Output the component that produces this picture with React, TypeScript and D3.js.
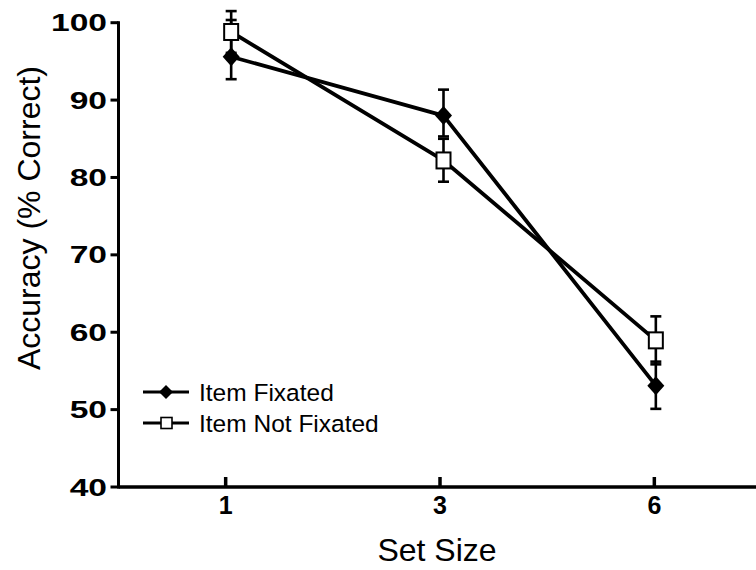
import { useEffect, useRef } from "react"
import * as d3 from "d3"

const setSizes = ["1", "3", "6"]
const yTicks = [40, 50, 60, 70, 80, 90, 100]

const fixated = [95.6, 88.0, 53.1]
const fixatedErrUp = [4.75, 3.35, 3.1]
const fixatedErrDown = [2.9, 2.7, 3.0]

const notFixated = [98.8, 82.2, 58.95]
const notFixatedErrUp = [2.7, 2.8, 3.1]
const notFixatedErrDown = [2.7, 2.75, 3.1]

const legendLabels = ["Item Fixated", "Item Not Fixated"]

const W = 756
const H = 570
const FONT = "'Liberation Sans', Arial, Helvetica, sans-serif"

export default function App() {
  const svgRef = useRef<SVGSVGElement>(null)

  useEffect(() => {
    if (!svgRef.current) return
    const svg = d3.select(svgRef.current)
    svg.selectAll("*").remove()

    const axisX = 118.5
    const axisY = 487

    const x = d3.scalePoint<string>().domain(setSizes).range([axisX, 761.5]).padding(0.5)
    // the points sit slightly right of the ticks in the original
    const xData = d3.scalePoint<string>().domain(setSizes).range([125, 762]).padding(0.5)
    const y = d3.scaleLinear().domain([40, 100]).range([axisY, 22.7])

    const g = svg.append("g")

    // axes
    g.append("line")
      .attr("x1", axisX).attr("x2", axisX)
      .attr("y1", y(100) - 1.5).attr("y2", axisY + 1.5)
      .attr("stroke", "#000").attr("stroke-width", 3)
    g.append("line")
      .attr("x1", axisX).attr("x2", W)
      .attr("y1", axisY).attr("y2", axisY)
      .attr("stroke", "#000").attr("stroke-width", 3.5)

    g.selectAll(".ytick")
      .data(yTicks)
      .join("line")
      .attr("x1", axisX - 8).attr("x2", axisX)
      .attr("y1", (d) => y(d)).attr("y2", (d) => y(d))
      .attr("stroke", "#000").attr("stroke-width", 3)

    // y tick labels are stretched sideways in the original
    g.selectAll(".ylab")
      .data(yTicks)
      .join("text")
      .attr("transform", (d) => `translate(107, ${y(d) + 8.5}) scale(1.4, 1)`)
      .attr("text-anchor", "end")
      .attr("font-family", FONT)
      .attr("font-weight", "bold")
      .attr("font-size", 24)
      .text((d) => d)

    g.selectAll(".xtick")
      .data(setSizes)
      .join("line")
      .attr("x1", (d) => x(d)!).attr("x2", (d) => x(d)!)
      .attr("y1", axisY - 10).attr("y2", axisY)
      .attr("stroke", "#000").attr("stroke-width", 3.5)

    g.selectAll(".xlab")
      .data(setSizes)
      .join("text")
      .attr("x", (d) => x(d)!)
      .attr("y", 514)
      .attr("text-anchor", "middle")
      .attr("font-family", FONT)
      .attr("font-weight", "bold")
      .attr("font-size", 25)
      .text((d) => d)

    svg.append("text")
      .attr("x", 437)
      .attr("y", 561)
      .attr("text-anchor", "middle")
      .attr("font-family", FONT)
      .attr("font-size", 32)
      .text("Set Size")

    svg.append("text")
      .attr("transform", `translate(40, 218) rotate(-90)`)
      .attr("text-anchor", "middle")
      .attr("font-family", FONT)
      .attr("font-size", 32)
      .text("Accuracy (% Correct)")

    const series = [
      { values: fixated, up: fixatedErrUp, down: fixatedErrDown, marker: "diamond" },
      { values: notFixated, up: notFixatedErrUp, down: notFixatedErrDown, marker: "square" },
    ]

    const line = d3.line<number>()
      .x((_, i) => xData(setSizes[i])!)
      .y((d) => y(d))

    series.forEach((s) => {
      g.append("path")
        .attr("d", line(s.values))
        .attr("fill", "none")
        .attr("stroke", "#000")
        .attr("stroke-width", 3.8)
        .attr("stroke-linejoin", "round")
    })

    // error bars
    series.forEach((s) => {
      s.values.forEach((v, i) => {
        const cx = xData(setSizes[i])!
        const top = y(v + s.up[i])
        const bot = y(v - s.down[i])
        g.append("line")
          .attr("x1", cx).attr("x2", cx).attr("y1", top).attr("y2", bot)
          .attr("stroke", "#000").attr("stroke-width", 2.6)
        ;[top, bot].forEach((yy) => {
          g.append("line")
            .attr("x1", cx - 5.5).attr("x2", cx + 5.5).attr("y1", yy).attr("y2", yy)
            .attr("stroke", "#000").attr("stroke-width", 2.6)
        })
      })
    })

    const diamond = (cx: number, cy: number, w: number, h: number) =>
      `M${cx},${cy - h / 2}L${cx + w / 2},${cy}L${cx},${cy + h / 2}L${cx - w / 2},${cy}Z`

    // markers
    series.forEach((s) => {
      s.values.forEach((v, i) => {
        const cx = xData(setSizes[i])!
        const cy = y(v)
        if (s.marker === "diamond") {
          g.append("path")
            .attr("d", diamond(cx, cy, 17, 19))
            .attr("fill", "#000")
        } else {
          g.append("rect")
            .attr("x", cx - 7).attr("y", cy - 8)
            .attr("width", 14).attr("height", 16)
            .attr("fill", "#fff").attr("stroke", "#000").attr("stroke-width", 2)
        }
      })
    })

    // legend
    const legendY = [392, 423]
    legendLabels.forEach((label, i) => {
      const ly = legendY[i]
      g.append("line")
        .attr("x1", 143).attr("x2", 189).attr("y1", ly).attr("y2", ly)
        .attr("stroke", "#000").attr("stroke-width", 3)
      if (i === 0) {
        g.append("path").attr("d", diamond(166, ly, 14, 14)).attr("fill", "#000")
      } else {
        g.append("rect")
          .attr("x", 161).attr("y", ly - 5.5).attr("width", 11).attr("height", 11)
          .attr("fill", "#fff").attr("stroke", "#000").attr("stroke-width", 1.6)
      }
      g.append("text")
        .attr("x", 199)
        .attr("y", ly + 8.5)
        .attr("font-family", FONT)
        .attr("font-size", 24.5)
        .text(label)
    })
  }, [])

  return (
    <svg
      ref={svgRef}
      width={W}
      height={H}
      style={{ position: "absolute", left: 0, top: 0, background: "#fff" }}
    />
  )
}
